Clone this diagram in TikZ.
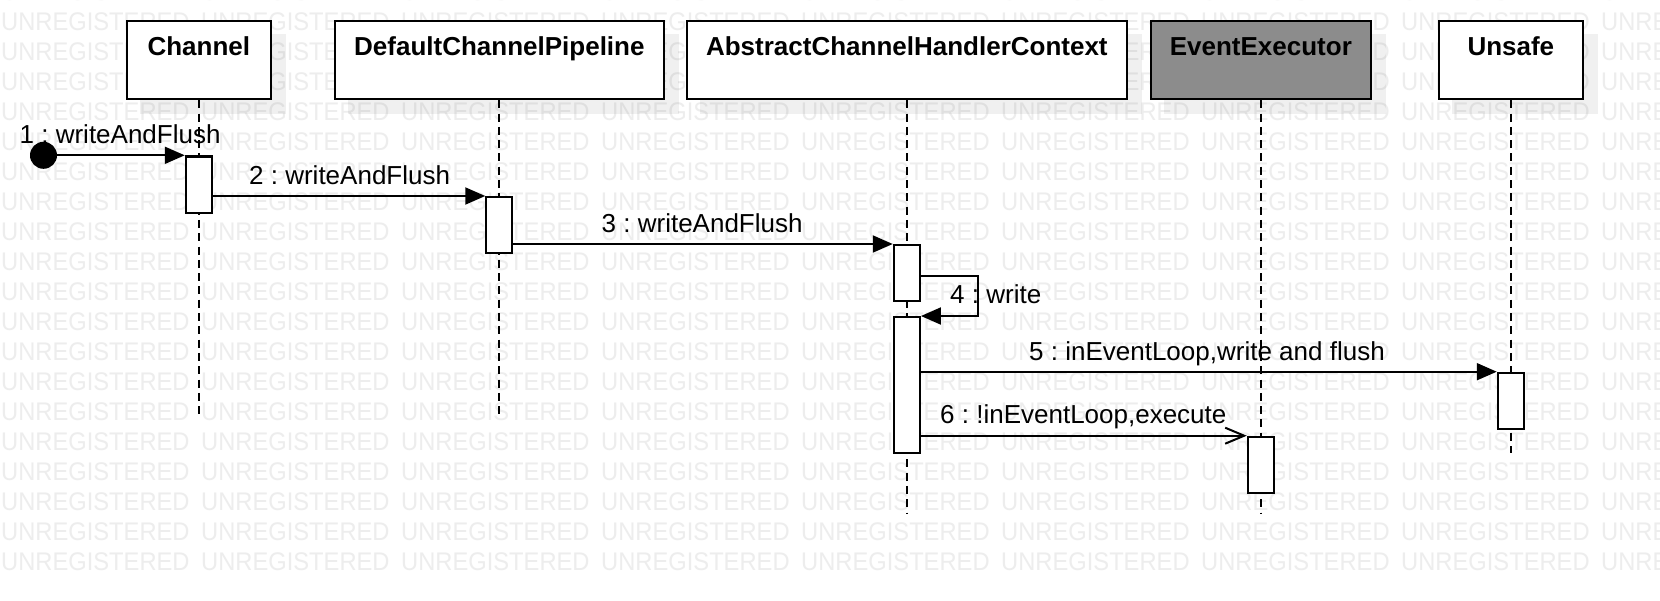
\documentclass[tikz,border=0pt]{standalone}
\usepackage{fontspec}
\setmainfont{Liberation Sans}
\usetikzlibrary{arrows.meta}
\pgfdeclarelayer{wmark}
\pgfdeclarelayer{shadow}
\pgfsetlayers{wmark,shadow,main}
\definecolor{wm}{RGB}{237,237,237}
\definecolor{eefill}{RGB}{140,140,140}
\newcommand{\fsz}{\fontsize{26pt}{30pt}\selectfont\frenchspacing}
\newcommand{\wsz}{\fontsize{25.5pt}{30pt}\selectfont}
\begin{document}
\begin{tikzpicture}[x=1pt,y=-1pt,
  head/.style={draw=black, line width=2.2pt, fill=white, inner sep=0pt,
    text height=34pt, text depth=44pt, anchor=north west, font=\fsz\bfseries},
  life/.style={line width=2pt, dash pattern=on 8pt off 5.3pt},
  act/.style={draw=black, line width=2.2pt, fill=white, minimum width=26pt,
    inner sep=0pt, anchor=north},
  msg/.style={line width=2pt, -{Triangle[length=20pt,width=17pt]}},
  amsg/.style={line width=2pt, -{Straight Barb[length=19pt,width=16pt]}},
  lbl/.style={anchor=base west, inner sep=0pt, font=\fsz},
  wmk/.style={anchor=west, inner sep=0pt, text=wm, font=\wsz},
  shad/.style={fill=black, opacity=0.06}
]
\useasboundingbox (0,0) rectangle (1660,600);

% background and watermark
\begin{pgfonlayer}{wmark}
\fill[white] (0,0) rectangle (1660,600);
\foreach \r in {-1,...,18}{
  \foreach \c in {0,...,8}{
    \node[wmk] (w-\r-\c) at ({1+200*\c},{21.7+30*\r}) {\scalebox{0.93}[1]{UNREGISTERED}};
  }
}
\end{pgfonlayer}

% heads
\node[head, minimum width=143.5pt] (ch) at (126,20) {Channel};
\node[head, minimum width=329.5pt] (pl) at (333.5,20) {DefaultChannelPipeline};
\node[head, minimum width=439.5pt] (ac) at (686,20) {AbstractChannelHandlerContext};
\node[head, minimum width=220.5pt, fill=eefill] (ee) at (1149.5,20) {EventExecutor};
\node[head, minimum width=143.5pt] (un) at (1438,20) {Unsafe};

% shadows
\begin{pgfonlayer}{shadow}
\foreach \n in {ch,pl,ac,ee,un}{
  \fill[shad] ([shift={(14,14)}]\n.north west) rectangle ([shift={(14,14)}]\n.south east);
}
\end{pgfonlayer}

% lifeline ends
\coordinate (chend) at (ch.south |- 0,418);
\coordinate (plend) at (pl.south |- 0,418);
\coordinate (acend) at (ac.south |- 0,513.5);
\coordinate (eeend) at (ee.south |- 0,513.5);
\coordinate (unend) at (un.south |- 0,453);
\draw[life] (ch.south) -- (chend);
\draw[life] (pl.south) -- (plend);
\draw[life] (ac.south) -- (acend);
\draw[life] (ee.south) -- (eeend);
\draw[life] (un.south) -- (unend);

% activations
\node[act, minimum height=56.4pt] (a1) at (ch.south |- 0,155.3) {};
\node[act, minimum height=56pt] (a2) at (pl.south |- 0,196) {};
\node[act, minimum height=56pt] (a3) at (ac.south |- 0,244) {};
\node[act, minimum height=136pt] (a4) at (ac.south |- 0,316) {};
\node[act, minimum height=56pt] (a5) at (un.south |- 0,371.7) {};
\node[act, minimum height=56.3pt] (a6) at (ee.south |- 0,435.7) {};

% start
\node[circle, fill=black, minimum size=27pt, inner sep=0pt] (start) at (43.5,155.3) {};

% messages
\draw[msg] (start) -- (a1.north west);
\draw[msg] (a2.north west -| a1.east) -- (a2.north west);
\draw[msg] (a3.north west -| a2.east) -- (a3.north west);
\coordinate (s4) at (977.7,275.7);
\draw[msg] (a3.east |- s4) -- (s4) |- (a4.north east);
\draw[msg] (a5.north west -| a4.east) -- (a5.north west);
\draw[amsg] (a6.north west -| a4.east) -- (a6.north west);

% labels
\node[lbl] (l1) at (19.5,143.3) {1 : writeAndFlush};
\node[lbl] (l2) at (249,184.3) {2 : writeAndFlush};
\node[lbl] (l3) at (601.5,232) {3 : writeAndFlush};
\node[lbl] (l4) at (950,303) {4 : write};
\node[lbl] (l5) at (1029,360.5) {5 : inEventLoop,write and flush};
\node[lbl] (l6) at (940,423.5) {6 : !inEventLoop,execute};
\end{tikzpicture}
\end{document}
